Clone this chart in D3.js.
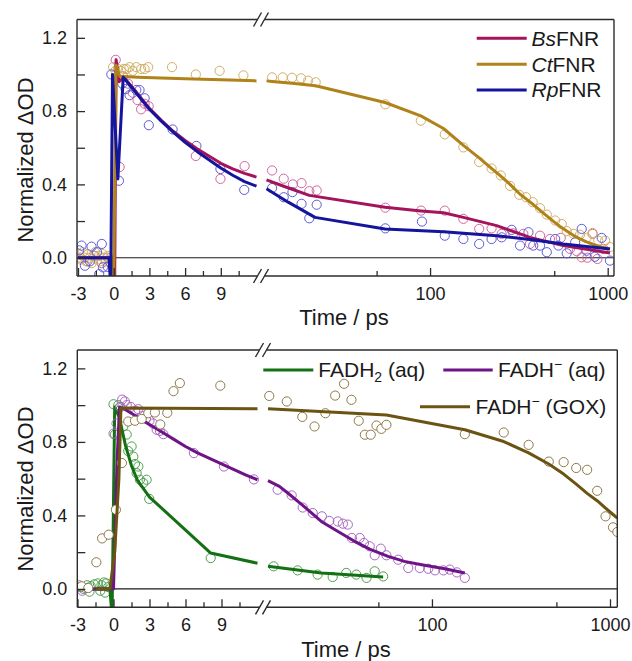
<!DOCTYPE html>
<html>
<head>
<meta charset="utf-8">
<script src="https://cdn.jsdelivr.net/npm/d3@7"></script>
<style>
  html, body { margin: 0; padding: 0; background: #fff; }
  svg { display: block; }
</style>
</head>
<body>
<svg id="chart" width="632" height="661"></svg>
<script>
// ---------- time axis: linear part, then logarithmic part after the break ----------
const linearSpan = [-3, 12];
const logSpan = [12, 1000];
const breakTime = 12;
const linearMajorTicks = [-3, 0, 3, 6, 9];
const linearMinorTicks = [-1.5, 1.5, 4.5, 7.5, 10.5];
const logMajorTicks = [100, 1000];
const logMinorTicks = [50, 500];
const valueSpan = [-0.1, 1.3];
const valueMajorTicks = [0, 0.4, 0.8, 1.2];
const valueMinorTicks = [0.2, 0.6, 1.0];

// ---------- upper panel: FNR proteins, [time / ps, normalized ΔOD] ----------
const bsfnrPoints = [
  [-2.8, 0.0], [-2.2, -0.02], [-1.6, 0.01], [-1.0, -0.03], [-0.5, 0.0],
  [0.17, 1.08], [0.5, 0.495], [0.78, 0.99], [1.2, 0.95], [1.6, 0.9], [2.0, 0.86], [2.3, 0.81],
  [2.6, 0.84], [2.94, 0.827], [6.9, 0.555], [8.97, 0.43], [11.0, 0.50],
  [12.9, 0.476], [15.0, 0.431], [16.9, 0.40], [18.9, 0.407], [20.9, 0.363], [23.0, 0.367],
  [56, 0.273], [89, 0.257], [121, 0.257], [154, 0.212], [189, 0.157], [222, 0.16], [253, 0.13],
  [294, 0.133], [335, 0.13], [365, 0.075], [416, 0.12], [473, 0.102], [544, 0.108], [613, 0.048],
  [670, 0.035], [714, 0.002], [768, 0.0], [822, 0.13], [875, -0.007], [944, 0.048]
];
const bsfnrFitEarly = [
  [-3, 0], [0, 0], [0.08, -0.15], [0.2, 1.08], [0.45, 0.96], [0.85, 0.985], [1.5, 0.935], [2, 0.895],
  [3, 0.815], [4, 0.75], [5, 0.69], [6, 0.64], [7, 0.595], [8, 0.555], [9, 0.515], [10, 0.485],
  [11, 0.46], [12, 0.44]
];
const bsfnrFitLate = [
  [12, 0.425], [15, 0.39], [20.9, 0.34], [55.8, 0.275], [89, 0.255], [119, 0.245], [154, 0.22],
  [237, 0.175], [365, 0.111], [562, 0.066], [1030, 0.026]
];

const ctfnrPoints = [
  [-2.95, 0.02], [-2.75, -0.01], [-2.6, 0.03], [-2.45, 0.0], [-2.3, -0.02], [-2.15, 0.02], [-2.0, 0.0],
  [-1.85, -0.03], [-1.7, 0.01], [-1.55, 0.03], [-1.4, -0.01], [-1.25, 0.01], [-1.1, -0.02], [-0.95, 0.02],
  [-0.8, 0.0], [-0.65, -0.02], [-0.5, 0.01], [-0.35, -0.01],
  [-0.05, 1.04], [0.15, 1.02], [0.35, 1.03], [0.6, 1.02], [0.85, 1.03], [1.06, 1.03], [1.33, 1.04],
  [1.6, 1.02], [1.9, 1.04], [2.3, 1.03], [2.6, 1.03], [2.9, 1.04], [4.9, 1.04], [6.9, 1.0], [8.9, 1.02],
  [10.9, 0.995],
  [12.9, 0.984], [14.8, 0.984], [16.7, 0.982], [18.8, 0.979], [20.6, 0.966], [22.7, 0.957], [56, 0.837],
  [88.7, 0.748], [121, 0.673], [154, 0.602], [189, 0.522], [222, 0.487], [250, 0.449], [282, 0.392],
  [318, 0.343], [347, 0.33], [378, 0.303], [416, 0.27], [454, 0.235], [506, 0.203], [551, 0.184],
  [588, 0.145], [642, 0.13], [698, 0.125], [760, 0.108], [822, 0.135], [885, 0.093], [967, 0.093],
  [1030, 0.058]
];
const ctfnrFitEarly = [[-3, 0], [-0.1, 0], [0, -0.15], [0.2, 1.05], [0.5, 0.99], [2, 0.985], [6, 0.977], [12, 0.965]];
const ctfnrFitLate = [
  [12, 0.965], [12.9, 0.962], [16.7, 0.952], [22.7, 0.938], [55.8, 0.847], [88.7, 0.774], [119, 0.705],
  [154, 0.613], [189, 0.545], [220, 0.49], [250, 0.445], [282, 0.40], [318, 0.35], [350, 0.318],
  [381, 0.29], [416, 0.258], [454, 0.228], [495, 0.198], [539, 0.17], [588, 0.145], [640, 0.122],
  [698, 0.103], [760, 0.086], [830, 0.072], [906, 0.06], [1030, 0.048]
];

const rpfnrPoints = [
  [-2.9, 0.04], [-2.7, 0.066], [-2.42, -0.044], [-2.0, -0.02], [-1.86, 0.06], [-1.4, 0.03], [-1.22, -0.09],
  [-1.0, 0.075], [-0.9, -0.053], [-0.5, -0.05],
  [-0.2, 1.0], [0.44, 0.42], [0.72, 0.95], [1.0, 0.92], [1.33, 0.887], [1.9, 0.915], [2.17, 0.915],
  [2.6, 0.87], [2.95, 0.723], [4.95, 0.70], [6.95, 0.61], [8.97, 0.484], [10.97, 0.37],
  [12.9, 0.38], [15.0, 0.33], [16.8, 0.358], [18.9, 0.294], [20.9, 0.215], [23.0, 0.289], [56, 0.16],
  [90, 0.197], [121, 0.12], [154, 0.102], [189, 0.075], [222, 0.102], [253, 0.111], [288, 0.152],
  [321, 0.066], [358, 0.139], [381, 0.066], [416, 0.066], [454, 0.03], [506, 0.102], [528, 0.066],
  [588, 0.024], [656, 0.084], [714, 0.157], [760, 0.038], [846, 0.005], [925, 0.108], [1030, -0.016]
];
const rpfnrFitEarly = [
  [-3, 0], [-0.4, 0], [-0.25, -0.15], [-0.1, 1.0], [0.35, 0.43], [0.8, 0.985], [1.5, 0.93], [2, 0.89],
  [3, 0.81], [4, 0.745], [5, 0.685], [6, 0.63], [7, 0.58], [8, 0.535], [9, 0.49], [10, 0.45],
  [11, 0.415], [12, 0.39]
];
const rpfnrFitLate = [
  [12, 0.376], [15.9, 0.303], [22.5, 0.22], [55.8, 0.157], [119, 0.142], [237, 0.12], [365, 0.099],
  [562, 0.075], [1030, 0.048]
];

// ---------- lower panel: free flavin and GOX-bound flavin ----------
const fadh2Points = [
  [-2.8, 0.01], [-2.5, 0.0], [-2.2, 0.02], [-2.0, -0.015], [-1.9, 0.015], [-1.6, 0.025], [-1.3, 0.03],
  [-1.1, -0.01], [-1.0, 0.02], [-0.8, 0.035], [-0.7, -0.02], [-0.6, 0.03], [-0.45, 0.01],
  [0.0, 1.005], [0.12, 0.84], [0.4, 1.0], [0.55, 0.99], [0.82, 0.884], [1.1, 0.84], [1.23, 0.75],
  [1.51, 0.775], [1.65, 0.72], [1.79, 0.68], [1.93, 0.63], [2.07, 0.666], [2.2, 0.594], [2.48, 0.576],
  [2.76, 0.594], [2.98, 0.49], [8.1, 0.168],
  [12.9, 0.123], [17.6, 0.101], [22.8, 0.078], [27.7, 0.065], [33, 0.087], [37.6, 0.078], [42.9, 0.06],
  [47.7, 0.096], [53.2, 0.068]
];
const fadh2FitEarly = [
  [-3, 0], [-0.3, 0], [-0.12, -0.15], [0.1, 0.99], [0.5, 0.93], [1.0, 0.78], [1.5, 0.67], [2.0, 0.59],
  [3.0, 0.50], [8.1, 0.195], [12, 0.14]
];
const fadh2FitLate = [[12, 0.123], [23.9, 0.087], [53.2, 0.065]];

const fadhAqPoints = [
  [-2.85, 0.02], [-2.6, -0.01], [-2.35, 0.005],
  [0.0, 0.845], [0.25, 0.9], [0.55, 0.99], [0.72, 1.03], [0.95, 1.02], [1.1, 1.0], [1.45, 0.99],
  [1.8, 0.97], [2.07, 0.978], [2.4, 0.94], [2.7, 0.925], [3.0, 0.915], [3.3, 0.9], [3.6, 0.866],
  [3.87, 0.86], [4.15, 0.842], [6.7, 0.739], [9.2, 0.666], [11.7, 0.596],
  [13.6, 0.54], [16.3, 0.509], [18.8, 0.443], [21.4, 0.413], [24.1, 0.395], [26.5, 0.37], [29.6, 0.367],
  [31.6, 0.355], [33.7, 0.35], [35.5, 0.277], [39.3, 0.277], [41.5, 0.25], [44.7, 0.232], [47.7, 0.183],
  [51.6, 0.219], [55.5, 0.183], [64.6, 0.159], [73.6, 0.114], [85.5, 0.114], [95.3, 0.11], [104, 0.101],
  [116, 0.101], [126, 0.105], [138, 0.09], [153, 0.06]
];
const fadhAqFitEarly = [
  [-3, 0], [0, 0], [0.3, 0.7], [0.5, 0.99], [1, 0.975], [2, 0.935], [3, 0.895], [4, 0.855], [5, 0.815],
  [6, 0.775], [7, 0.74], [8, 0.71], [9, 0.68], [10, 0.65], [11, 0.62], [12, 0.594]
];
const fadhAqFitLate = [
  [12, 0.589], [13.9, 0.558], [15.5, 0.522], [18.8, 0.455], [23.9, 0.367], [30, 0.31], [36.7, 0.259],
  [45, 0.215], [56.7, 0.177], [70, 0.15], [87.5, 0.132], [118, 0.11], [153, 0.087]
];

const fadhGoxPoints = [
  [-2.65, 0.014], [-2.1, 0.005], [-1.43, 0.145], [-0.95, 0.275], [-0.4, 0.295], [0.2, 0.431], [0.7, 0.685],
  [1.23, 0.911], [1.79, 0.915], [2.35, 0.925], [2.9, 0.956], [3.45, 0.96], [3.9, 0.895], [4.48, 0.958],
  [5.0, 1.076], [5.53, 1.12], [8.9, 1.106],
  [12.2, 1.05], [15.3, 1.02], [18.7, 0.936], [21.9, 0.884], [25.2, 0.956], [28.6, 1.052], [32.1, 1.116],
  [35.3, 1.029], [38.8, 0.915], [42, 0.839], [45.3, 0.839], [48.8, 0.889], [52, 0.871], [55.5, 0.893],
  [153, 0.842], [253, 0.851], [349, 0.784], [453, 0.693], [549, 0.69], [646, 0.658], [744, 0.648],
  [847, 0.534], [944, 0.395], [1040, 0.335], [1100, 0.31]
];
const fadhGoxFitEarly = [[-1.5, 0], [-0.3, 0], [0.1, 0.2], [0.45, 0.6], [0.62, 0.985], [12, 0.98]];
const fadhGoxFitLate = [
  [12, 0.98], [55.5, 0.946], [153, 0.866], [253, 0.802], [349, 0.74], [453, 0.68], [549, 0.625],
  [646, 0.57], [744, 0.52], [847, 0.48], [944, 0.44], [1040, 0.405], [1100, 0.385]
];

// ---------- drawing ----------
const FONT = '"Liberation Sans", Arial, Helvetica, sans-serif';
const INK = "#1a1a1a";
const FRAME = "#2b2b2b";
const svg = d3.select("#chart").attr("font-family", FONT);

const panels = [
  {
    id: "fnr",
    box: { left: 77, right: 614, top: 19.5, bottom: 276 },
    linRange: [78, 256.5], logRange: [266.5, 607.7], breakX: 261,
    yTitle: [33, 160], xTitle: [344, 325],
    series: [
      { points: bsfnrPoints, early: bsfnrFitEarly, late: bsfnrFitLate, line: "#a3145c", marker: "#d2679d", fill: "none" },
      { points: ctfnrPoints, early: ctfnrFitEarly, late: ctfnrFitLate, line: "#b0821a", marker: "#d2b066", fill: "none" },
      { points: rpfnrPoints, early: rpfnrFitEarly, late: rpfnrFitLate, line: "#14149c", marker: "#5c5cd8", fill: "none" }
    ],
    markersFirst: true,
    legend: [
      { x1: 476.7, x2: 526.7, y: 38.3, tx: 531.5, color: "#a3145c", parts: [["Bs", "italic"], ["FNR", "normal"]] },
      { x1: 476.7, x2: 526.7, y: 64.3, tx: 531.5, color: "#b0821a", parts: [["Ct", "italic"], ["FNR", "normal"]] },
      { x1: 476.7, x2: 526.7, y: 90, tx: 531.5, color: "#14149c", parts: [["Rp", "italic"], ["FNR", "normal"]] }
    ]
  },
  {
    id: "fad",
    box: { left: 77.3, right: 617.3, top: 350, bottom: 607.3 },
    linRange: [77.5, 257.5], logRange: [268, 610], breakX: 263,
    yTitle: [33, 489], xTitle: [346, 657],
    series: [
      { points: fadh2Points, early: fadh2FitEarly, late: fadh2FitLate, line: "#137013", marker: "#4f9f4f", fill: "none" },
      { points: fadhAqPoints, early: fadhAqFitEarly, late: fadhAqFitLate, line: "#6e1487", marker: "#a968c4", fill: "none" },
      { points: fadhGoxPoints, early: fadhGoxFitEarly, late: fadhGoxFitLate, line: "#6b5312", marker: "#8e7a4a", fill: "#ffffff" }
    ],
    markersFirst: false,
    legend: [
      { x1: 263.3, x2: 313.3, y: 370, tx: 318.3, color: "#137013", label: "FADH2" },
      { x1: 443.3, x2: 492.7, y: 370, tx: 498, color: "#6e1487", label: "FADHaq" },
      { x1: 420, x2: 470, y: 406.7, tx: 475.5, color: "#6b5312", label: "FADHGOX" }
    ]
  }
];

function styleAxis(g, size) {
  g.select(".domain").remove();
  g.attr("font-family", FONT).attr("font-size", size).attr("color", INK);
  g.selectAll(".tick line").attr("stroke", FRAME).attr("stroke-width", 1.3);
}

function drawPanel(p) {
  const b = p.box;
  const root = svg.append("g");
  const xLin = d3.scaleLinear().domain(linearSpan).range(p.linRange);
  const xLog = d3.scaleLog().domain(logSpan).range(p.logRange);
  const y = d3.scaleLinear().domain(valueSpan).range([b.bottom, b.top]);
  const xOf = t => (t < breakTime ? xLin(t) : xLog(t));

  const clipId = "clip-" + p.id;
  root.append("clipPath").attr("id", clipId)
    .append("rect").attr("x", b.left).attr("y", b.top)
    .attr("width", b.right - b.left).attr("height", b.bottom - b.top);

  const plot = root.append("g").attr("clip-path", `url(#${clipId})`);

  // zero reference line
  plot.append("line")
    .attr("x1", b.left).attr("x2", b.right)
    .attr("y1", y(0)).attr("y2", y(0))
    .attr("stroke", INK).attr("stroke-width", 1.1);

  const lineLin = d3.line().x(d => xLin(d[0])).y(d => y(d[1]));
  const lineLog = d3.line().x(d => xLog(d[0])).y(d => y(d[1]));

  const drawMarkers = s => {
    plot.append("g").selectAll("circle").data(s.points).join("circle")
      .attr("cx", d => xOf(d[0])).attr("cy", d => y(d[1])).attr("r", 4.6)
      .attr("fill", s.fill).attr("stroke", s.marker).attr("stroke-width", 1);
  };
  const drawFits = s => {
    [[s.early, lineLin], [s.late, lineLog]].forEach(([data, gen]) => {
      plot.append("path").datum(data).attr("d", gen)
        .attr("fill", "none").attr("stroke", s.line).attr("stroke-width", 3)
        .attr("stroke-linejoin", "round");
    });
  };

  if (p.markersFirst) {
    p.series.forEach(drawMarkers);
    p.series.forEach(drawFits);
  } else {
    p.series.forEach(s => { drawMarkers(s); drawFits(s); });
  }

  // axes (ticks point inward)
  const bottomG = root.append("g").attr("transform", `translate(0,${b.bottom})`);
  bottomG.append("g").call(d3.axisBottom(xLin).tickValues(linearMajorTicks).tickSizeInner(-8).tickSizeOuter(0)
    .tickPadding(11).tickFormat(d => String(d))).call(g => styleAxis(g, 18));
  bottomG.append("g").call(d3.axisBottom(xLin).tickValues(linearMinorTicks).tickSizeInner(-5).tickSizeOuter(0)
    .tickFormat("")).call(g => styleAxis(g, 18));
  bottomG.append("g").call(d3.axisBottom(xLog).tickValues(logMajorTicks).tickSizeInner(-8).tickSizeOuter(0)
    .tickPadding(11).tickFormat(d => String(d))).call(g => styleAxis(g, 18));
  bottomG.append("g").call(d3.axisBottom(xLog).tickValues(logMinorTicks).tickSizeInner(-5).tickSizeOuter(0)
    .tickFormat("")).call(g => styleAxis(g, 18));

  const leftG = root.append("g").attr("transform", `translate(${b.left},0)`);
  leftG.append("g").call(d3.axisLeft(y).tickValues(valueMajorTicks).tickSizeInner(-8).tickSizeOuter(0)
    .tickPadding(10).tickFormat(d3.format(".1f"))).call(g => styleAxis(g, 18));
  leftG.append("g").call(d3.axisLeft(y).tickValues(valueMinorTicks).tickSizeInner(-8).tickSizeOuter(0)
    .tickFormat("")).call(g => styleAxis(g, 18));

  // frame with axis-break marks on top and bottom edges
  const fr = root.append("g").attr("stroke", FRAME).attr("stroke-width", 1.4).attr("fill", "none");
  fr.append("line").attr("x1", b.left).attr("x2", b.left).attr("y1", b.top).attr("y2", b.bottom);
  fr.append("line").attr("x1", b.right).attr("x2", b.right).attr("y1", b.top).attr("y2", b.bottom);
  [b.top, b.bottom].forEach(yy => {
    fr.append("line").attr("x1", b.left).attr("x2", p.breakX - 3.5).attr("y1", yy).attr("y2", yy);
    fr.append("line").attr("x1", p.breakX + 3.5).attr("x2", b.right).attr("y1", yy).attr("y2", yy);
    [-3.5, 3.5].forEach(o => {
      fr.append("line")
        .attr("x1", p.breakX + o - 4).attr("y1", yy + 7)
        .attr("x2", p.breakX + o + 4).attr("y2", yy - 7);
    });
  });

  // axis titles
  root.append("text")
    .attr("transform", `translate(${p.yTitle[0]},${p.yTitle[1]}) rotate(-90)`)
    .attr("text-anchor", "middle").attr("font-size", 22).attr("fill", INK)
    .text("Normalized \u0394OD");
  root.append("text")
    .attr("x", p.xTitle[0]).attr("y", p.xTitle[1])
    .attr("text-anchor", "middle").attr("font-size", 22).attr("fill", INK)
    .text("Time / ps");

  // legend
  const lg = root.append("g");
  p.legend.forEach(item => {
    lg.append("line").attr("x1", item.x1).attr("x2", item.x2).attr("y1", item.y).attr("y2", item.y)
      .attr("stroke", item.color).attr("stroke-width", 3);
    const t = lg.append("text").attr("x", item.tx).attr("y", item.y + 7.3)
      .attr("font-size", 21).attr("fill", INK);
    if (item.parts) {
      item.parts.forEach(([txt, style]) => t.append("tspan").attr("font-style", style).text(txt));
    } else if (item.label === "FADH2") {
      t.append("tspan").text("FADH");
      t.append("tspan").attr("font-size", 14).attr("dy", 5).text("2");
      t.append("tspan").attr("dy", -5).text(" (aq)");
    } else {
      t.append("tspan").text("FADH");
      t.append("tspan").attr("font-size", 14).attr("dy", -8).text("\u2212");
      t.append("tspan").attr("dy", 8).text(item.label === "FADHaq" ? " (aq)" : " (GOX)");
    }
  });
}

panels.forEach(drawPanel);
</script>
</body>
</html>
